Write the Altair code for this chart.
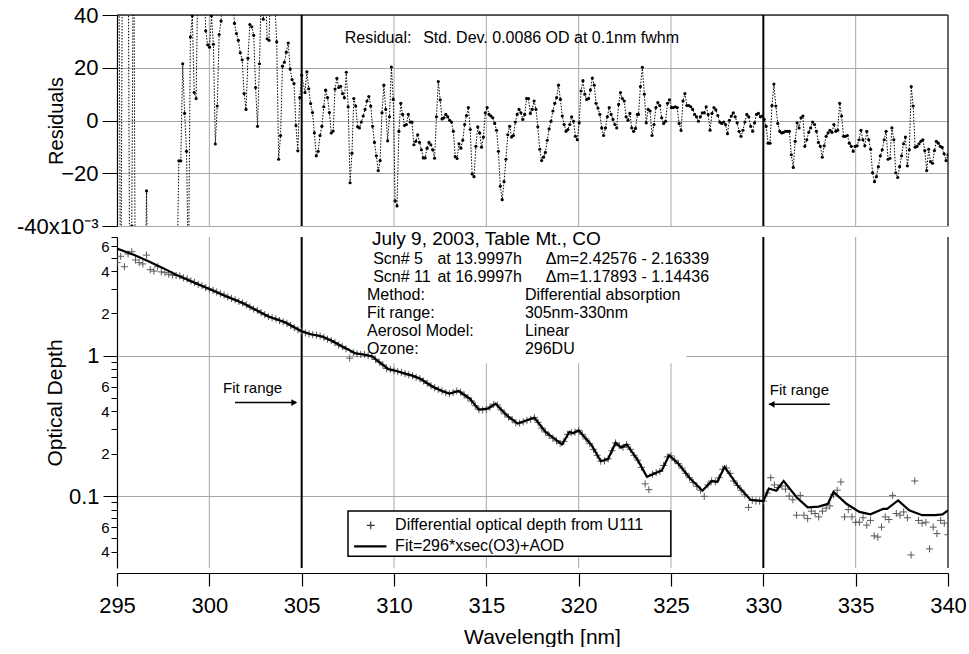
import altair as alt
import numpy as np
import pandas as pd

FONT = "Liberation Sans"

# ---------------- Residuals (units of 1e-3 OD), read in four wavelength segments ----------------
res_a_range = (295.0, 298.2)
res_a = [85, 70, -90, 80, 90, 75, 85, -90, -40, 90,
         -90, -85, -95, -80, -90, -75, -26.7, -90, -85, -95,
         -80, -90, -85, -95, -80, -90, -85, -90, -80, -95,
         -85, -90, -80]
res_b_range = (298.35, 305.0)
res_b = [-15.3, -15.3, 21.5, 2.7, -11.7, -60, 31.7, 39.7, 10.6, 8.3,
         60, 70, 60, 55, 34, 28.7, 27.8, 39.7, 28.9, -8.9,
         5.5, 32.6, 37.7, 55, 70, 65, 50, 60, 48, 36.8,
         33, 30.4, 25.7, 23, 10.2, 4.2, 23.6, 36.4, 35.5, 32.3,
         12.5, -2.2, 21.5, 50, 38.4, 55, 31, 30.4, 60, 55,
         45, 29.8, -14.7, -5.7, 20.6, 22.1, 25.9, 29.4, 19.5, 15.5,
         14, -1.9, -11.5, 8.7, 17.2]
res_c_range = (305.18, 323.18)
res_c = [10.6, 18.5, 12, 6.4, 3, -4.7, -13.4, -11.7, -5.7, -2.2,
         5.2, 11.5, 8.7, 3, -4.7, -4, 11.9, 16, 12.5, 13,
         10.2, 8.6, 18.3, 5.2, -23.6, -12.4, 8.3, 5.5, -2.4, -2.8,
         -0.6, 1.7, 4.2, 7.4, 9.1, 5.5, -2.2, -8.3, -13.4, -19,
         -15.2, 2.9, 13.4, 4.2, -7.7, 1.4, 20.3, 8, -30.5, -32.4,
         -4.1, 6.5, 2.3, -1.9, -1.5, 2.3, -0.6, -0.6, -9.2, -7.9,
         -5.4, -8.3, -11.1, -14.2, -14.2, -10.5, -8.3, -9.2, -11.1, -14.3,
         1.4, 14.8, 7.8, 0.6, 1, 2.3, 1.4, 0.1, -0.6, -4.1,
         -13.7, -14.4, -8.8, -10.5, -7.5, -1.5, 1.9, 4.9, -3.4, -20.3,
         -21.3, -9.8, -2.4, -4.7, -10.1, -6.3, 2.9, 4.9, 2.3, 1.7,
         1, -1.1, -3.7, -11.7, -24.9, -30, -23.2, -14.7, -5.4, -2.2,
         -6.3, -5.7, -0.6, 2.3, 4.2, 2.9, 0.4, 2.3, 8.3, 8.3,
         2.7, 4.2, 7.4, 4.2, -2.4, -10.9, -15.2, -13.9, -12.1, -7.5,
         -3.2, -0.3, 3.6, 6.5, 8.7, 13.4, 8, 1.7, -1.5, -4.1,
         -3.4, -1.5, 1.4, -0.3, -6, -7.3, -0.9, 11.2, 15.1, 10,
         8, 8.3, 11.6, 16.1, 13.4, 6.5, 4.7, 2.3, -2.8, -5.7,
         -2.8, 1.4, 4.9, 2.3, 0.4, -1.5, -2.8, 6.1, 10.6, 8.3,
         7.4, 1.4, 0.1, 2.7, -2.8, -4.1, -3, 2.3]
res_d_range = (323.24, 340.0)
res_d = [2.3, 12.9, 20.2, 10, -0.9, 4.2, 3.6, -5.7, -1.5, 4.9,
         6.8, 5.7, 1, -1.1, -0.3, 6.5, 7.8, 4.9, 4.9, 5.2,
         4.9, -1.1, -3.8, 7.4, 10.2, 5.7, 5.7, 5.2, 4.2, 2.3,
         1.4, -0.3, 1.4, 2.9, 2.9, 5.2, 2.3, -3.7, 2.7, 4.9,
         4, 1.9, -0.6, -1.1, -0.6, -1.5, -5, 0.1, 1.7, 2.9,
         1.4, -0.9, -4.1, -6, -3.7, -0.6, 2.3, 1.4, -2.2, -4.1,
         -0.9, 2.3, 2.7, 1.4, 1.7, 0.4, -2.2, -8.6, -8.6, 5.7,
         13.8, 5.5, -1.1, -4.1, -4.7, -4.5, -4.1, -4.1, -4.1, -13,
         -17.8, -7.9, -0.9, -2.8, 1, 1.7, -9.8, -7.3, -4.5, -2.8,
         -0.6, -1.5, -4.1, -8.3, -9.8, -13.9, -9.6, -6, -4.7, -3.7,
         -4.5, -1.5, -4.1, -3.7, 6.5, 1.7, -6, -6, -5.7, -8.6,
         -9.8, -11.7, -9.8, -9.6, -7.3, -3.7, -7.3, -9.6, -4.1, -7.3,
         -10.9, -19.8, -23.2, -21.3, -17.5, -13.4, -11.1, -7.3, -4.1, -14.7,
         -14.3, -2.8, -7.3, -19.8, -21.6, -17.5, -13.4, -8.8, -6.3, -17.2,
         -11.1, 12.9, 5.5, -10.1, -9.8, -8.8, -7.9, -7.3, -11.4, -19,
         -10.9, -15.6, -16.2, -11.4, -7.9, -8.6, -9.8, -10.2, -12.6, -15.2,
         -13]

# ---------------- Differential optical depth (data, + markers), 0.2 nm sampling ----------------
od_a_range = (295.0, 298.0)
od_a = [4.6, 5.1, 4.3, 5.3, 5.5, 4.8, 4.6, 4.5, 5.2, 4.1, 4.0, 4.3, 3.95, 3.9, 3.8, 3.75]
od_b_range = (298.2, 330.0)
od_b = [3.72, 3.70, 3.58, 3.52, 3.40, 3.32, 3.22, 3.15, 3.05, 2.98,
        2.92, 2.84, 2.76, 2.70, 2.62, 2.56, 2.50, 2.43, 2.37, 2.30,
        2.22, 2.15, 2.10, 2.02, 1.96, 1.90, 1.86, 1.83, 1.78, 1.74,
        1.70, 1.64, 1.58, 1.53, 1.49, 1.45, 1.43, 1.41, 1.40, 1.38,
        1.35, 1.31, 1.28, 1.24, 1.19, 1.16, 1.12, 0.96, 1.05, 1.03,
        1.02, 1.02, 1.00, 0.99, 0.94, 0.90, 0.86, 0.81, 0.80, 0.78,
        0.77, 0.76, 0.745, 0.73, 0.72, 0.70, 0.686, 0.66, 0.635, 0.61,
        0.59, 0.575, 0.56, 0.545, 0.536, 0.545, 0.56, 0.55, 0.525, 0.50,
        0.475, 0.44, 0.412, 0.41, 0.415, 0.43, 0.45, 0.445, 0.41, 0.385,
        0.365, 0.35, 0.332, 0.33, 0.338, 0.346, 0.352, 0.362, 0.335, 0.305,
        0.286, 0.27, 0.258, 0.247, 0.237, 0.245, 0.275, 0.283, 0.285, 0.294,
        0.275, 0.255, 0.236, 0.215, 0.195, 0.177, 0.178, 0.184, 0.21, 0.239,
        0.228, 0.222, 0.233, 0.215, 0.195, 0.18, 0.16, 0.122, 0.111, 0.143,
        0.147, 0.15, 0.165, 0.19, 0.193, 0.18, 0.17, 0.158, 0.145, 0.135,
        0.125, 0.117, 0.11, 0.0995, 0.12, 0.128, 0.126, 0.135, 0.155, 0.158,
        0.145, 0.128, 0.119, 0.11, 0.102, 0.083, 0.093, 0.092, 0.092, 0.092]
od_c_range = (330.2, 340.0)
od_c = [0.105, 0.135, 0.12, 0.115, 0.118, 0.112, 0.1, 0.094, 0.073, 0.101,
        0.073, 0.069, 0.078, 0.075, 0.071, 0.078, 0.082, 0.085, 0.102, 0.11,
        0.126, 0.071, 0.08, 0.071, 0.065, 0.065, 0.07, 0.062, 0.067, 0.052,
        0.051, 0.060, 0.071, 0.068, 0.101, 0.075, 0.073, 0.077, 0.07, 0.038,
        0.128, 0.067, 0.064, 0.065, 0.042, 0.06, 0.054, 0.067, 0.064, 0.053]

# ---------------- Fit = 296*xsec(O3)+AOD ----------------
fit_wl = [295.0, 295.9, 296.7, 297.5, 298.2, 299.1, 300.0, 300.9, 301.8, 302.5,
          303.2, 304.1, 305.0, 305.5, 306.1, 306.6, 307.2, 307.9, 308.3, 308.8,
          309.2, 309.7, 310.1, 310.5, 311.0, 311.4, 312.1, 312.6, 313.0, 313.5,
          314.1, 314.6, 315.1, 315.5, 316.1, 316.7, 317.2, 317.6, 318.2, 319.1,
          319.5, 319.7, 320.0, 320.7, 321.2, 321.6, 322.0, 322.3, 322.6, 323.2,
          323.7, 324.3, 324.5, 324.9, 325.4, 326.0, 326.7, 327.2, 327.5, 327.9,
          328.6, 329.3, 330.0, 330.3, 330.7, 331.1, 331.8, 332.4, 333.0, 333.5,
          333.8, 334.5, 335.2, 335.8, 336.5, 336.7, 337.3, 337.9, 338.6, 339.3,
          339.7, 340.0]
fit_od = [5.8, 5.24, 4.7, 4.2, 3.77, 3.35, 2.98, 2.65, 2.37, 2.12,
          1.90, 1.73, 1.49, 1.42, 1.37, 1.28, 1.16, 1.04, 1.02, 0.99,
          0.90, 0.80, 0.78, 0.75, 0.72, 0.686, 0.60, 0.56, 0.536, 0.56,
          0.494, 0.412, 0.42, 0.455, 0.376, 0.328, 0.346, 0.362, 0.286, 0.233,
          0.286, 0.28, 0.294, 0.23, 0.177, 0.184, 0.239, 0.221, 0.233, 0.18,
          0.137, 0.148, 0.152, 0.195, 0.17, 0.135, 0.109, 0.128, 0.126, 0.161,
          0.119, 0.094, 0.092, 0.113, 0.109, 0.128, 0.098, 0.083, 0.084, 0.088,
          0.107, 0.088, 0.077, 0.074, 0.081, 0.081, 0.093, 0.079, 0.073, 0.073,
          0.074, 0.079]

grid_wl = [300, 310, 315, 320, 325, 335]
fit_bounds = [305, 330]
edge_wl = [340]
x_ticks = list(range(295, 341, 5))
minor_vals = [0.04, 0.05, 0.06, 0.07, 0.08, 0.09, 0.2, 0.3, 0.4, 0.5, 0.6, 0.7, 0.8, 0.9,
              2, 3, 4, 5, 6, 7]


def seg(rng, vals):
    return np.linspace(rng[0], rng[1], len(vals))


res_df = pd.DataFrame({
    "wl": np.concatenate([seg(res_a_range, res_a), seg(res_b_range, res_b),
                          seg(res_c_range, res_c), seg(res_d_range, res_d)]),
    "r": res_a + res_b + res_c + res_d,
})
od_df = pd.DataFrame({
    "wl": np.concatenate([seg(od_a_range, od_a), seg(od_b_range, od_b), seg(od_c_range, od_c)]),
    "od": od_a + od_b + od_c,
})
fit_df = pd.DataFrame({"wl": fit_wl, "od": fit_od})
grid_df = pd.DataFrame({"wl": grid_wl})
bound_df = pd.DataFrame({"wl": fit_bounds})
edge_df = pd.DataFrame({"wl": edge_wl})

xs = alt.Scale(domain=[295, 340], nice=False, zero=False)
ys_top = alt.Scale(domain=[-40, 40], nice=False, zero=False)
ys_bot = alt.Scale(type="log", domain=[0.0307, 7.0], nice=False)
GRID = "#a8a8a8"

# ================= TOP PANEL =================
top_axis = alt.Axis(
    orient="left", values=[-40, -20, 0, 20, 40],
    labelExpr="datum.value == -40 ? '-40x10\u207b\u00b3' : datum.label",
    ticks=True, tickSize=15, tickColor="black", domainColor="black", domainWidth=1.2,
    labelFontSize=22, labelPadding=4, labelFlush=False, labelOverlap=False,
    grid=True, gridColor=GRID,
    title="Residuals", titleFontSize=20, titleFontWeight="normal",
    titleX=-61, titleBaseline="middle",
)
XT = lambda: alt.X("wl:Q", scale=xs, axis=None)
YT = lambda f: alt.Y(f"{f}:Q", scale=ys_top, axis=top_axis)

t_grid = alt.Chart(grid_df).mark_rule(color=GRID, strokeWidth=1).encode(x=XT())
t_border = alt.Chart(pd.DataFrame({"y": [40]})).mark_rule(color="#333333", strokeWidth=1.5).encode(y=YT("y"))
t_bounds = alt.Chart(bound_df).mark_rule(color="black", strokeWidth=2).encode(x=XT())
t_edge = alt.Chart(edge_df).mark_rule(color="#333333", strokeWidth=1.5).encode(x=XT())
t_line = alt.Chart(res_df).mark_line(color="black", strokeWidth=1, strokeDash=[1.5, 1.5], clip=True).encode(
    x=XT(), y=YT("r"))
t_pts = alt.Chart(res_df).mark_circle(color="black", size=10, opacity=1, clip=True).encode(x=XT(), y=YT("r"))
t_text = alt.Chart(pd.DataFrame({"wl": [307.33, 311.58], "y": [31.3, 31.3],
                                 "t": ["Residual:", "Std. Dev. 0.0086 OD at 0.1nm fwhm"]})).mark_text(
    align="left", baseline="middle", fontSize=16, font=FONT, color="black").encode(
    x=XT(), y=YT("y"), text="t:N")

top = alt.layer(t_grid, t_border, t_bounds, t_edge, t_line, t_pts, t_text).properties(width=831, height=211)

# ================= BOTTOM PANEL =================
x_axis = alt.Axis(
    values=x_ticks, format="d", offset=5, ticks=True, tickSize=13, tickColor="black", tickWidth=1.2,
    domainColor="black", domainWidth=1.2, labelFontSize=22, labelPadding=9, labelBaseline="top",
    labelFlush=False, labelOverlap=False, grid=False,
    title="Wavelength [nm]", titleFontSize=21, titleFontWeight="normal", titlePadding=10,
    titleX=425,
)
ymaj = alt.Axis(
    orient="left", values=[0.1, 1], labelExpr="datum.value >= 1 ? '1' : '0.1'",
    ticks=True, tickSize=14, tickColor="black", domainColor="black", domainWidth=1.2,
    labelFontSize=22, labelPadding=4, labelFlush=False, labelOverlap=False,
    grid=True, gridColor=GRID,
    title="Optical Depth", titleFontSize=21, titleFontWeight="normal",
    titleX=-62, titleBaseline="middle",
)
ymin = alt.Axis(
    orient="left", values=minor_vals,
    labelExpr="(datum.value == 2 || datum.value == 0.2) ? '2' : (datum.value == 4 || datum.value == 0.4 || datum.value == 0.04) ? '4' : (datum.value == 6 || datum.value == 0.6 || datum.value == 0.06) ? '6' : ''",
    ticks=True, tickSize=6, tickColor="black", domain=False, grid=False,
    labelFontSize=15, labelPadding=2, labelFlush=False, labelOverlap=False, title="",
)
XB = lambda: alt.X("wl:Q", scale=xs, axis=x_axis)
YB = lambda f: alt.Y(f"{f}:Q", scale=ys_bot, axis=None)

b_grid = alt.Chart(grid_df).mark_rule(color=GRID, strokeWidth=1).encode(x=XB())
b_textbg = alt.Chart(pd.DataFrame({"wl": [308.54], "wl2": [325.82], "y": [0.881], "y2": [7.0]})).mark_rect(
    color="white", opacity=1).encode(x=XB(), x2="wl2:Q", y=YB("y"), y2="y2:Q")
b_bounds = alt.Chart(bound_df).mark_rule(color="black", strokeWidth=2).encode(x=XB())
b_edge = alt.Chart(edge_df).mark_rule(color="#333333", strokeWidth=1.5).encode(x=XB())

arrows_df = pd.DataFrame({"wl": [301.39, 330.3], "wl2": [304.7, 333.6], "y": [0.463, 0.45]})
b_arrows = alt.Chart(arrows_df).mark_rule(color="black", strokeWidth=1.5).encode(
    x=XB(), x2="wl2:Q", y=YB("y"))
b_head_r = alt.Chart(pd.DataFrame({"wl": [304.6], "y": [0.463]})).mark_point(
    shape="triangle-right", filled=True, size=45, color="black", opacity=1).encode(x=XB(), y=YB("y"))
b_head_l = alt.Chart(pd.DataFrame({"wl": [330.45], "y": [0.45]})).mark_point(
    shape="triangle-left", filled=True, size=45, color="black", opacity=1).encode(x=XB(), y=YB("y"))
b_fr_text = alt.Chart(pd.DataFrame({"wl": [300.74, 330.35], "y": [0.592, 0.573], "t": ["Fit range", "Fit range"]})).mark_text(
    align="left", baseline="middle", fontSize=15, font=FONT, color="black").encode(
    x=XB(), y=YB("y"), text="t:N")

b_legbox = alt.Chart(pd.DataFrame({"wl": [307.51], "wl2": [324.99], "y": [0.0782], "y2": [0.0372]})).mark_rect(
    fill="white", stroke="black", strokeWidth=1.5, opacity=1).encode(
    x=XB(), x2="wl2:Q", y=YB("y"), y2="y2:Q")

PLUS = "M-1,0L1,0M0,-1L0,1"
b_data = alt.Chart(od_df).mark_point(shape=PLUS, filled=False, color="#5a5a5a", size=50, strokeWidth=1,
                                    opacity=1, clip=True).encode(x=XB(), y=YB("od"))
b_fit = alt.Chart(fit_df).mark_line(color="black", strokeWidth=2.2, clip=True).encode(
    x=XB(), y=alt.Y("od:Q", scale=ys_bot, axis=ymaj))
b_minor = alt.Chart(fit_df).mark_point(opacity=0, size=1).encode(
    x=XB(), y=alt.Y("od:Q", scale=ys_bot, axis=ymin))

b_leg_plus = alt.Chart(pd.DataFrame({"wl": [308.74], "y": [0.0618]})).mark_point(
    shape=PLUS, filled=False, color="#333333", size=60, strokeWidth=1.2, opacity=1).encode(
    x=XB(), y=YB("y"))
b_leg_line = alt.Chart(pd.DataFrame({"wl": [307.84], "wl2": [309.59], "y": [0.0438]})).mark_rule(
    color="black", strokeWidth=2.2).encode(x=XB(), x2="wl2:Q", y=YB("y"))
b_leg_text = alt.Chart(pd.DataFrame({"wl": [310.06, 310.06], "y": [0.0618, 0.0438],
                                     "t": ["Differential optical depth from U111", "Fit=296*xsec(O3)+AOD"]})).mark_text(
    align="left", baseline="middle", fontSize=16, font=FONT, color="black").encode(
    x=XB(), y=YB("y"), text="t:N")

info_df = pd.DataFrame({
    "wl": [308.87, 312.35, 318.22, 308.87, 312.35, 318.22,
           308.54, 317.09, 308.54, 317.09, 308.54, 317.09, 308.54, 317.09],
    "y": [4.91, 4.91, 4.91, 3.63, 3.63, 3.63,
          2.69, 2.69, 2.02, 2.02, 1.49, 1.49, 1.11, 1.11],
    "t": ["Scn# 5", "at 13.9997h", "\u0394m=2.42576 - 2.16339",
          "Scn# 11", "at 16.9997h", "\u0394m=1.17893 - 1.14436",
          "Method:", "Differential absorption", "Fit range:", "305nm-330nm",
          "Aerosol Model:", "Linear", "Ozone:", "296DU"],
})
b_info = alt.Chart(info_df).mark_text(align="left", baseline="middle", fontSize=16, font=FONT,
                                      color="black").encode(x=XB(), y=YB("y"), text="t:N")
b_title = alt.Chart(pd.DataFrame({"wl": [308.81], "y": [6.74], "t": ["July 9, 2003, Table Mt., CO"]})).mark_text(
    align="left", baseline="middle", fontSize=19, font=FONT, color="black").encode(
    x=XB(), y=YB("y"), text="t:N")

bottom = alt.layer(
    b_grid, b_textbg, b_bounds, b_edge, b_arrows, b_head_r, b_head_l, b_fr_text,
    b_legbox, b_data, b_fit, b_minor, b_leg_plus, b_leg_line, b_leg_text, b_info, b_title,
).resolve_axis(y="independent").properties(width=831, height=331)

chart = alt.vconcat(top, bottom, spacing=11, bounds="flush").properties(
    padding={"left": 16, "top": 4, "right": 0, "bottom": 0},
    background="white",
).configure(font=FONT).configure_view(stroke=None).configure_axis(
    labelFont=FONT, titleFont=FONT, labelColor="black", titleColor="black")

chart.save("out.html", embed_options={"renderer": "svg", "actions": False})
